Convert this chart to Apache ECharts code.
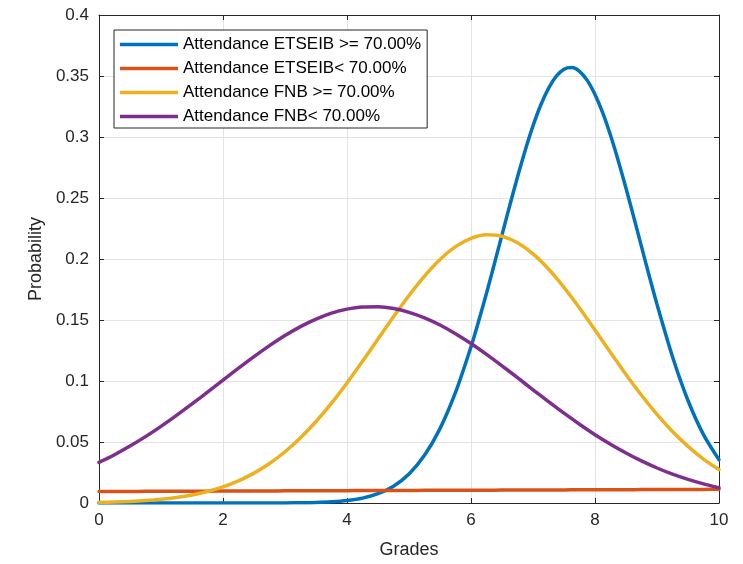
<!DOCTYPE html>
<html>
<head>
<meta charset="utf-8">
<script src="https://cdn.jsdelivr.net/npm/echarts@6/dist/echarts.min.js"></script>
<style>html,body{margin:0;padding:0;background:#fff}#c{width:743px;height:564px}</style>
</head>
<body>
<div id="c"></div>
<script>
const grades = [0,0.25,0.5,0.75,1,1.25,1.5,1.75,2,2.25,2.5,2.75,3,3.25,3.5,3.75,4,4.25,4.5,4.75,5,5.25,5.5,5.75,6,6.25,6.5,6.75,7,7.25,7.5,7.75,8,8.25,8.5,8.75,9,9.25,9.5,9.75,10];
const etseibHighGrades = [0,0.5,1,1.5,2,2.5,3,3.25,3.5,3.75,4,4.25,4.5,4.75,5,5.25,5.5,5.75,6,6.125,6.25,6.375,6.5,6.625,6.75,6.875,7,7.125,7.25,7.375,7.5,7.625,7.75,7.875,8,8.125,8.25,8.375,8.5,8.625,8.75,8.875,9,9.25,9.5,9.75,10];
const etseibHigh = [0,0,0,0,0.000001,0.00001,0.00007,0.00018,0.00042,0.00094,0.00198,0.00398,0.00759,0.01377,0.02378,0.03905,0.06097,0.0906,0.1280,0.1493,0.1720,0.1957,0.2198,0.2439,0.2672,0.2892,0.3091,0.3262,0.3399,0.3498,0.3556,0.3569,0.3538,0.3464,0.3348,0.3197,0.3014,0.2806,0.2580,0.2343,0.2101,0.1861,0.1628,0.1199,0.0840,0.0560,0.0355];
const etseibLow = [0.00940,0.00945,0.00949,0.00954,0.00958,0.00963,0.00967,0.00972,0.00976,0.00981,0.00985,0.00990,0.00994,0.00999,0.01003,0.01008,0.01012,0.01017,0.01021,0.01026,0.01030,0.01035,0.01039,0.01044,0.01048,0.01053,0.01057,0.01062,0.01066,0.01071,0.01075,0.01080,0.01084,0.01089,0.01093,0.01098,0.01102,0.01107,0.01111,0.01116,0.01120];
const fnbHigh = [0.00053,0.00084,0.00132,0.00203,0.00307,0.00455,0.00662,0.00944,0.01322,0.01815,0.02447,0.03236,0.0420,0.0535,0.0668,0.0818,0.0984,0.1161,0.1344,0.1527,0.1701,0.1860,0.1996,0.2101,0.2170,0.2199,0.2187,0.2133,0.2042,0.1918,0.1767,0.1598,0.1418,0.1234,0.1054,0.0883,0.0726,0.0586,0.0464,0.0360,0.0274];
const fnbLow = [0.0333,0.0396,0.0467,0.0544,0.0628,0.0718,0.0812,0.0909,0.1007,0.1105,0.1200,0.1290,0.1373,0.1446,0.1507,0.1556,0.1589,0.1607,0.1609,0.1594,0.1563,0.1518,0.1459,0.1388,0.1307,0.1218,0.1124,0.1027,0.0928,0.0831,0.0736,0.0646,0.0560,0.0482,0.0410,0.0345,0.0287,0.0237,0.0194,0.0157,0.0125];
const seriesNames = ['Attendance ETSEIB >= 70.00%','Attendance ETSEIB< 70.00%','Attendance FNB >= 70.00%','Attendance FNB< 70.00%'];
const xTicks = [0,2,4,6,8,10];
const yTicks = [0,0.05,0.1,0.15,0.2,0.25,0.3,0.35,0.4];

const colors = ['#0072BD','#D95319','#EDB120','#7E2F8E'];
const allX = [etseibHighGrades, grades, grades, grades];
const allData = [etseibHigh, etseibLow, fnbHigh, fnbLow];
const FONT = 'Liberation Sans, Arial, sans-serif';
const chart = echarts.init(document.getElementById('c'), null, {renderer:'canvas'});
const axisCommon = {
  axisLine:{show:true,onZero:false,lineStyle:{color:'#262626',width:1}},
  axisTick:{show:true,inside:true,length:5,lineStyle:{color:'#262626'}},
};
chart.setOption({
  animation:false,
  backgroundColor:'#fff',
  color:colors,
  grid:{left:99,right:24,top:15,bottom:61,containLabel:false},
  legend:{
    orient:'vertical',left:114,top:30,
    data:seriesNames,
    itemWidth:58,itemHeight:16,itemGap:7,
    padding:[6,6,3,6],
    borderColor:'#262626',borderWidth:1,backgroundColor:'#fff',
    textStyle:{fontFamily:FONT,fontSize:17,lineHeight:16,color:'#000'},
    icon:'path://M0,0 L58,0 L58,3.5 L0,3.5 Z'
  },
  xAxis:[{
    type:'value',min:xTicks[0],max:xTicks[xTicks.length-1],interval:2,
    ...axisCommon,
    axisLabel:{fontFamily:FONT,fontSize:17,color:'#262626',margin:9},
    splitLine:{show:true,lineStyle:{color:'#e3e3e3',width:1}},
    name:'Grades',nameLocation:'middle',nameGap:38,
    nameTextStyle:{fontFamily:FONT,fontSize:18,color:'#262626'}
  },{
    type:'value',position:'top',min:0,max:10,interval:2,
    ...axisCommon,axisLabel:{show:false},splitLine:{show:false}
  }],
  yAxis:[{
    type:'value',min:yTicks[0],max:yTicks[yTicks.length-1],interval:0.05,
    ...axisCommon,
    axisLabel:{fontFamily:FONT,fontSize:17,color:'#262626',margin:10},
    splitLine:{show:true,lineStyle:{color:'#e3e3e3',width:1}},
    name:'Probability',nameLocation:'middle',nameGap:53,
    nameTextStyle:{fontFamily:FONT,fontSize:18,color:'#262626'}
  },{
    type:'value',position:'right',min:0,max:0.4,interval:0.05,
    ...axisCommon,axisLabel:{show:false},splitLine:{show:false}
  }],
  series: allData.map((arr,i)=>({
    name:seriesNames[i],type:'line',
    data:allX[i].map((g,j)=>[g,arr[j]]),
    symbol:'none',smooth:0.3,
    lineStyle:{width:3.5,color:colors[i],join:'round',cap:'round'},
    itemStyle:{color:colors[i]},
    xAxisIndex:0,yAxisIndex:0,z:2+i
  }))
});
</script>
</body>
</html>
